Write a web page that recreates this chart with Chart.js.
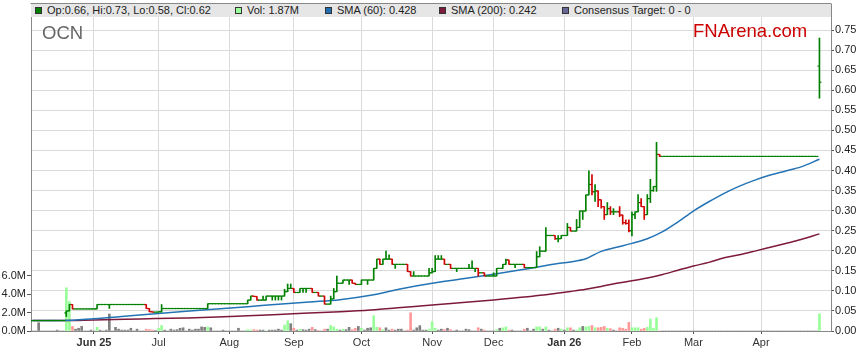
<!DOCTYPE html>
<html><head><meta charset="utf-8">
<script src="https://cdn.jsdelivr.net/npm/chart.js@4.4.1/dist/chart.umd.min.js"></script>
<style>
html,body{margin:0;padding:0;background:#fff;}
#wrap{position:relative;width:859px;height:363px;overflow:hidden;font-family:"Liberation Sans",Arial,sans-serif;}
#c{position:absolute;left:0;top:0;}
#band{position:absolute;left:31px;top:4px;width:800px;height:13px;background:#e6e6e6;}
.it{position:absolute;top:4px;height:13px;line-height:13px;font-size:11px;color:#222;white-space:nowrap;}
.sq{position:absolute;top:3px;left:0;width:7px;height:7px;box-sizing:border-box;border:1px solid #333;}
.tx{position:absolute;left:12px;top:0;}
#ttl{position:absolute;left:42px;top:23.5px;font-size:18.5px;line-height:1;color:#666;}
#wm{position:absolute;left:693px;top:21.6px;font-size:18.5px;line-height:1;color:#cc0000;}
</style>
</head><body>
<div id="wrap">
<canvas id="c" width="859" height="363"></canvas>
<div id="band"></div>
<div class="it" style="left:35px"><span class="sq" style="background:#008000"></span><span class="tx">Op:0.66, Hi:0.73, Lo:0.58, Cl:0.62</span></div>
<div class="it" style="left:235px"><span class="sq" style="background:#99ff99"></span><span class="tx">Vol: 1.87M</span></div>
<div class="it" style="left:325px"><span class="sq" style="background:#1f6fb2"></span><span class="tx">SMA (60): 0.428</span></div>
<div class="it" style="left:439px"><span class="sq" style="background:#7d1a3c"></span><span class="tx">SMA (200): 0.242</span></div>
<div class="it" style="left:562px"><span class="sq" style="background:#666699"></span><span class="tx">Consensus Target: 0 - 0</span></div>
<div id="ttl">OCN</div>
<div id="wm">FNArena.com</div>
</div>
<script>
// ---- data (index = weekday number, 0 = 5 May 2025) ----
const monthLabels = ['Jun 25','Jul','Aug','Sep','Oct','Nov','Dec','Jan 26','Feb','Mar','Apr'];
const monthIdx = [20,41,64,85,107,130,150,173,195,215,237];
const priceTicks = [0,0.05,0.10,0.15,0.20,0.25,0.30,0.35,0.40,0.45,0.50,0.55,0.60,0.65,0.70,0.75];
const volTicks = [0,2,4,6];

const open = [
.026,.026,.026,.026,.026,.026,.026,.026,.026,.026,
.026,.045,.05,.066,.055,.055,.055,.055,.055,.055,
.055,.055,.066,.066,.066,.066,.066,.066,.066,.066,
.066,.066,.066,.066,.066,.066,.066,.066,.056,.048,
.047,.047,.048,.056,.056,.056,.056,.056,.056,.056,
.056,.056,.056,.056,.056,.056,.056,.056,.068,.068,
.068,.068,.068,.068,.068,.068,.068,.068,.068,.068,
.068,.077,.087,.086,.077,.077,.077,.087,.087,.087,
.087,.087,.087,.098,.106,.106,.096,.096,.106,.106,
.106,.106,.096,.096,.087,.087,.067,.067,.08,.098,
.119,.119,.127,.127,.127,.119,.116,.116,.127,.127,
.127,.127,.156,.179,.166,.179,.179,.179,.166,.166,
.166,.166,.166,.148,.137,.137,.137,.137,.137,.137,
.145,.148,.179,.179,.179,.166,.166,.156,.156,.156,
.156,.156,.156,.156,.156,.156,.145,.145,.137,.137,
.137,.137,.156,.156,.166,.177,.166,.166,.166,.166,
.166,.158,.158,.158,.158,.185,.199,.199,.238,.238,
.238,.23,.23,.238,.238,.258,.249,.249,.258,.299,
.299,.339,.365,.347,.349,.327,.31,.29,.305,.297,
.297,.297,.289,.27,.268,.25,.29,.297,.32,.31,
.29,.33,.35,.36,.44,.435,.435,.435,.435,.435,
.435,.435,.435,.435,.435,.435,.435,.435,.435,.435,
.435,.435,.435,.435,.435,.435,.435,.435,.435,.435,
.435,.435,.435,.435,.435,.435,.435,.435,.435,.435,
.435,.435,.435,.435,.435,.435,.435,.435,.435,.435,
.435,.435,.435,.435,.435,.435,.66];
const high = [
.026,.026,.026,.026,.026,.026,.026,.026,.026,.026,
.026,.05,.066,.066,.055,.055,.055,.055,.055,.055,
.055,.066,.066,.066,.066,.066,.066,.066,.066,.066,
.066,.066,.066,.066,.066,.066,.066,.066,.056,.048,
.047,.048,.066,.056,.056,.056,.056,.056,.056,.056,
.056,.056,.056,.056,.056,.056,.056,.068,.068,.068,
.068,.068,.068,.068,.068,.068,.068,.068,.068,.068,
.077,.087,.087,.086,.077,.087,.087,.087,.087,.087,
.087,.087,.104,.117,.117,.106,.096,.106,.106,.106,
.106,.106,.096,.096,.087,.087,.067,.087,.106,.137,
.119,.127,.127,.127,.127,.119,.116,.127,.127,.127,
.127,.156,.179,.179,.179,.199,.19,.179,.166,.166,
.166,.166,.166,.148,.148,.137,.137,.137,.137,.156,
.156,.188,.188,.188,.179,.166,.166,.156,.156,.156,
.156,.156,.166,.175,.156,.156,.145,.145,.137,.137,
.145,.156,.156,.166,.179,.177,.166,.166,.166,.166,
.166,.158,.158,.158,.198,.21,.199,.258,.238,.238,
.238,.238,.238,.238,.268,.258,.249,.278,.299,.299,
.339,.399,.39,.365,.349,.327,.31,.32,.31,.305,
.297,.31,.289,.277,.277,.297,.297,.34,.33,.31,
.34,.378,.36,.47,.44,.435,.435,.435,.435,.435,
.435,.435,.435,.435,.435,.435,.435,.435,.435,.435,
.435,.435,.435,.435,.435,.435,.435,.435,.435,.435,
.435,.435,.435,.435,.435,.435,.435,.435,.435,.435,
.435,.435,.435,.435,.435,.435,.435,.435,.435,.435,
.435,.435,.435,.435,.435,.435,.73];
const low = [
.026,.026,.026,.026,.026,.026,.026,.026,.026,.026,
.026,.036,.05,.055,.055,.055,.055,.055,.055,.055,
.055,.055,.066,.066,.066,.056,.066,.066,.066,.066,
.066,.066,.066,.066,.066,.066,.066,.056,.048,.047,
.047,.047,.047,.056,.056,.056,.056,.056,.056,.056,
.056,.056,.056,.056,.056,.056,.056,.056,.068,.068,
.068,.068,.068,.068,.068,.068,.068,.068,.068,.068,
.068,.077,.086,.077,.077,.077,.077,.087,.077,.077,
.077,.077,.087,.098,.106,.096,.096,.096,.096,.096,
.106,.096,.096,.087,.087,.067,.067,.067,.08,.098,
.119,.119,.127,.116,.119,.116,.116,.116,.127,.116,
.127,.127,.156,.166,.166,.179,.179,.166,.156,.166,
.166,.166,.148,.137,.137,.137,.137,.137,.137,.137,
.145,.148,.179,.179,.166,.166,.156,.156,.148,.156,
.156,.156,.156,.156,.148,.137,.145,.137,.137,.137,
.137,.137,.156,.156,.166,.166,.166,.158,.166,.166,
.158,.158,.158,.158,.158,.185,.199,.199,.238,.238,
.228,.222,.23,.238,.238,.249,.249,.249,.258,.278,
.299,.339,.339,.323,.31,.306,.278,.29,.29,.29,
.297,.285,.266,.266,.247,.237,.28,.297,.31,.278,
.29,.32,.348,.348,.435,.435,.435,.435,.435,.435,
.435,.435,.435,.435,.435,.435,.435,.435,.435,.435,
.435,.435,.435,.435,.435,.435,.435,.435,.435,.435,
.435,.435,.435,.435,.435,.435,.435,.435,.435,.435,
.435,.435,.435,.435,.435,.435,.435,.435,.435,.435,
.435,.435,.435,.435,.435,.435,.58];
const close = [
.026,.026,.026,.026,.026,.026,.026,.026,.026,.026,
.026,.05,.066,.055,.055,.055,.055,.055,.055,.055,
.055,.066,.066,.066,.066,.066,.066,.066,.066,.066,
.066,.066,.066,.066,.066,.066,.066,.056,.048,.047,
.047,.048,.056,.056,.056,.056,.056,.056,.056,.056,
.056,.056,.056,.056,.056,.056,.056,.068,.068,.068,
.068,.068,.068,.068,.068,.068,.068,.068,.068,.068,
.077,.087,.086,.077,.077,.077,.087,.087,.087,.087,
.087,.087,.098,.106,.106,.096,.096,.106,.106,.106,
.106,.096,.096,.087,.087,.067,.067,.08,.098,.119,
.119,.127,.127,.127,.119,.116,.116,.127,.127,.127,
.127,.156,.179,.166,.179,.179,.179,.166,.166,.166,
.166,.166,.148,.137,.137,.137,.137,.137,.137,.145,
.148,.179,.179,.179,.166,.166,.156,.156,.156,.156,
.156,.156,.156,.156,.156,.145,.145,.137,.137,.137,
.137,.156,.156,.166,.177,.166,.166,.166,.166,.166,
.158,.158,.158,.158,.185,.199,.199,.238,.238,.238,
.23,.23,.238,.238,.258,.249,.249,.258,.299,.299,
.339,.365,.347,.349,.327,.31,.29,.305,.297,.297,
.297,.289,.27,.268,.25,.29,.297,.32,.31,.29,
.33,.35,.36,.44,.435,.435,.435,.435,.435,.435,
.435,.435,.435,.435,.435,.435,.435,.435,.435,.435,
.435,.435,.435,.435,.435,.435,.435,.435,.435,.435,
.435,.435,.435,.435,.435,.435,.435,.435,.435,.435,
.435,.435,.435,.435,.435,.435,.435,.435,.435,.435,
.435,.435,.435,.435,.435,.435,.62];
// volume in millions
const volumeM = [
0,0,.9,0,0,0,0,0,.1,0,
0,4.7,3.2,.5,.2,.3,.5,0,0,.1,
0,.4,.1,0,.1,1.85,0,.4,.2,.1,
.1,.1,.3,0,.2,0,0,.2,.15,.1,
.05,.3,.6,.1,0,.2,.1,.15,.3,.35,
0,.2,.1,.2,.2,.45,.4,.45,.35,0,
0,0,.1,0,0,0,0,.3,0,0,
.15,.1,.15,.1,.1,.1,0,.1,.1,.1,
.2,.1,.65,1.1,.8,.3,.1,.2,.15,.1,
.2,.4,.15,.05,0,.2,.2,.6,.45,.2,
.1,.2,.15,.4,.15,.3,.5,.3,.1,.3,
.35,1.66,.4,.35,.15,.35,.1,.2,.1,.2,
.2,0,.1,1.98,.1,.35,.58,.1,.1,.2,
1.0,.3,.1,.2,.15,.3,.15,0,.1,0,
0,.2,.15,0,0,.35,.2,.1,0,0,
0,.15,.3,.35,.45,.1,.1,0,0,0,
.2,.3,0,.2,.45,.45,.2,.45,.1,0,
.2,.3,.2,.1,.35,.35,.1,.1,.35,.5,
.45,.5,.6,.35,.35,.4,.5,.3,.25,.1,
0,.35,.3,.2,.94,.35,.35,.35,.2,.3,
.4,1.3,.3,1.45,0,0,0,0,0,0,
0,0,0,0,0,0,0,0,0,0,
0,0,0,0,0,0,0,0,0,0,
0,0,0,0,0,0,0,0,0,0,
0,0,0,0,0,0,0,0,0,0,
0,0,0,0,0,0,1.87];
// moving averages, read at sample days
const smaIdx = [0,10,20,30,40,50,60,70,80,90,100,110,120,130,140,150,160,170,175,180,185,190,195,200,205,210,215,220,225,230,235,240,245,250,256];
const sma60 = [.026,.026,.0305,.0366,.043,.049,.0548,.0606,.0665,.0722,.078,.089,.1054,.119,.130,.1415,.154,.167,.172,.180,.1985,.2085,.2184,.230,.2475,.272,.299,.322,.343,.361,.376,.3886,.3986,.409,.428];
const sma200 = [.026,.026,.0275,.029,.031,.0325,.0346,.038,.0413,.0448,.048,.0523,.0585,.065,.0708,.0772,.0845,.0935,.0985,.104,.111,.119,.125,.132,.141,.1515,.162,.171,.1826,.19,.199,.2085,.218,.2278,.242];

// ---- styling ----
const FONT = '"Liberation Sans", Arial, sans-serif';
const GREEN = '#008000', RED = '#d00000';
const VGREEN = '#99ff99', VPINK = '#ff9999', VGRAY = '#808080';
const idx = close.map((_, i) => i);
const barColor = close.map((c, i) => (i === 0 || c >= close[i - 1]) ? GREEN : RED);
const volColor = close.map((c, i) => i === 0 ? VGRAY : (c > close[i - 1] ? VGREEN : (c < close[i - 1] ? VPINK : VGRAY)));
const TICK_OFF = 0.33;

const topLine = {
  id: 'topLine',
  afterDraw(chart) {
    const {ctx, chartArea: a} = chart;
    ctx.save();
    ctx.strokeStyle = '#888';
    ctx.lineWidth = 1;
    ctx.beginPath();
    ctx.moveTo(a.left - 0.5, a.top - 0.5);
    ctx.lineTo(a.right + 0.5, a.top - 0.5);
    ctx.stroke();
    ctx.restore();
  }
};

new Chart(document.getElementById('c'), {
  type: 'bar',
  data: {
    datasets: [
      { type: 'bar', label: 'HL', yAxisID: 'y', order: 1, grouped: false,
        data: idx.map(i => ({x: i, y: [low[i], high[i]]})),
        backgroundColor: barColor, borderWidth: 0, barThickness: 1 },
      { type: 'line', label: 'Open', yAxisID: 'y', order: 1, showLine: false,
        data: idx.map(i => ({x: i - TICK_OFF, y: open[i]})),
        pointStyle: 'line', pointRadius: 1, pointHoverRadius: 1, pointBorderWidth: 1.2,
        pointBorderColor: barColor, pointBackgroundColor: barColor },
      { type: 'line', label: 'Close', yAxisID: 'y', order: 1, showLine: false,
        data: idx.map(i => ({x: i + TICK_OFF, y: close[i]})),
        pointStyle: 'line', pointRadius: 1, pointHoverRadius: 1, pointBorderWidth: 1.2,
        pointBorderColor: barColor, pointBackgroundColor: barColor },
      { type: 'line', label: 'SMA60', yAxisID: 'y', order: 2,
        data: smaIdx.map((v, k) => ({x: v, y: sma60[k]})),
        borderColor: '#2474b5', borderWidth: 1.5, pointRadius: 0, cubicInterpolationMode: 'monotone', fill: false },
      { type: 'line', label: 'SMA200', yAxisID: 'y', order: 3,
        data: smaIdx.map((v, k) => ({x: v, y: sma200[k]})),
        borderColor: '#7d1a3c', borderWidth: 1.5, pointRadius: 0, cubicInterpolationMode: 'monotone', fill: false },
      { type: 'bar', label: 'Vol', yAxisID: 'yv', order: 10, grouped: false,
        data: idx.map(i => ({x: i, y: volumeM[i]})),
        backgroundColor: volColor, borderWidth: 0, barThickness: 2 }
    ]
  },
  options: {
    responsive: false,
    devicePixelRatio: 1,
    animation: false,
    events: [],
    layout: { padding: {top: 4, left: 0, right: 0, bottom: 0} },
    plugins: { legend: {display: false}, tooltip: {enabled: false} },
    scales: {
      x: {
        type: 'linear', min: -0.49, max: 259.76, offset: false, bounds: 'data',
        afterBuildTicks: s => { s.ticks = monthIdx.map(v => ({value: v})); },
        afterFit: s => { s.height = 32; s.paddingLeft = 0; s.paddingRight = 0; },
        grid: { color: '#dadada', lineWidth: 1, drawTicks: true, tickLength: 3, tickColor: '#555', offset: false },
        border: { display: true, color: '#888', width: 1 },
        ticks: {
          autoSkip: false, maxRotation: 0, minRotation: 0, padding: 2, color: '#333',
          font: c => {
            const k = c.tick ? monthIdx.indexOf(c.tick.value) : -1;
            const b = k >= 0 && monthLabels[k].indexOf(' ') > 0;
            return {family: FONT, size: 11, weight: b ? 'bold' : 'normal'};
          },
          callback: v => { const k = monthIdx.indexOf(v); return k >= 0 ? monthLabels[k] : ''; }
        }
      },
      y: {
        type: 'linear', position: 'right', min: 0, max: 0.8148, bounds: 'data',
        afterBuildTicks: s => { s.ticks = priceTicks.map(v => ({value: v})); },
        afterFit: s => { s.width = 28; s.paddingTop = 0; s.paddingBottom = 0; },
        grid: { color: '#dadada', lineWidth: 1, tickLength: 3, tickColor: '#555' },
        border: { display: true, color: '#888', width: 1 },
        ticks: { padding: 1, color: '#222', font: {family: FONT, size: 11}, callback: v => v.toFixed(2) }
      },
      yv: {
        type: 'linear', position: 'left', min: 0, max: 35.6, bounds: 'data',
        afterBuildTicks: s => { s.ticks = volTicks.map(v => ({value: v})); },
        afterFit: s => { s.width = 31; s.paddingTop = 0; s.paddingBottom = 0; },
        grid: { drawOnChartArea: false, tickLength: 4, tickColor: '#555' },
        border: { display: true, color: '#888', width: 1 },
        ticks: { padding: 1, color: '#222', font: {family: FONT, size: 11}, callback: v => v.toFixed(1) + 'M' }
      }
    }
  },
  plugins: [topLine]
});
</script>
</body></html>
